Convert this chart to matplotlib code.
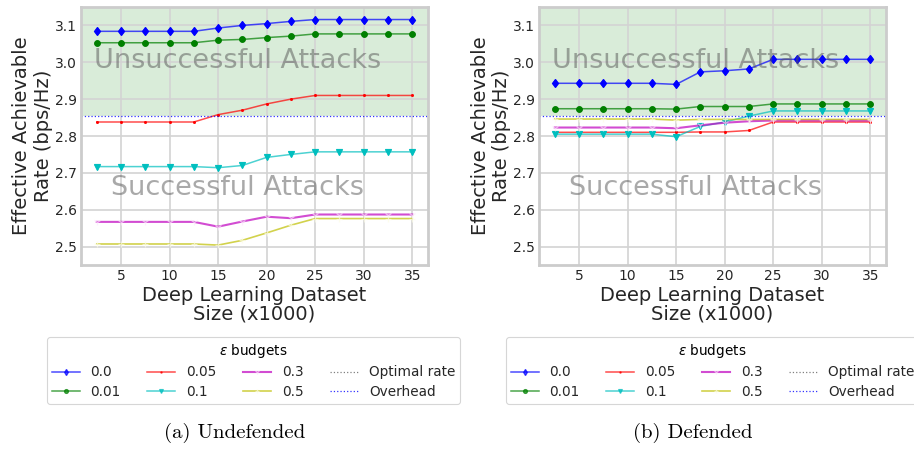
import matplotlib
matplotlib.use("Agg")
import matplotlib.pyplot as plt
from matplotlib.lines import Line2D

dataset_size = [2.5, 5, 7.5, 10, 12.5, 15, 17.5, 20, 22.5, 25, 27.5, 30, 32.5, 35]
budget_labels = ["0.0", "0.01", "0.05", "0.1", "0.3", "0.5"]

undef_00 = [3.084, 3.084, 3.084, 3.084, 3.084, 3.093, 3.100, 3.105, 3.111, 3.116, 3.116, 3.116, 3.116, 3.116]
undef_001 = [3.053, 3.053, 3.053, 3.053, 3.053, 3.060, 3.062, 3.067, 3.071, 3.077, 3.077, 3.077, 3.077, 3.077]
undef_005 = [2.838, 2.838, 2.838, 2.838, 2.838, 2.858, 2.870, 2.887, 2.900, 2.910, 2.910, 2.910, 2.910, 2.910]
undef_01 = [2.717, 2.717, 2.717, 2.717, 2.717, 2.714, 2.720, 2.742, 2.750, 2.757, 2.757, 2.757, 2.757, 2.757]
undef_03 = [2.567, 2.567, 2.567, 2.567, 2.567, 2.554, 2.568, 2.581, 2.577, 2.587, 2.587, 2.587, 2.587, 2.587]
undef_05 = [2.507, 2.507, 2.507, 2.507, 2.507, 2.504, 2.517, 2.537, 2.558, 2.576, 2.576, 2.576, 2.576, 2.576]

def_00 = [2.943, 2.943, 2.943, 2.943, 2.943, 2.940, 2.974, 2.977, 2.982, 3.008, 3.008, 3.008, 3.008, 3.008]
def_001 = [2.874, 2.874, 2.874, 2.874, 2.874, 2.873, 2.880, 2.880, 2.880, 2.887, 2.887, 2.887, 2.887, 2.887]
def_005 = [2.810, 2.810, 2.810, 2.810, 2.810, 2.810, 2.811, 2.811, 2.815, 2.838, 2.838, 2.838, 2.838, 2.838]
def_01 = [2.805, 2.805, 2.805, 2.805, 2.805, 2.798, 2.826, 2.838, 2.854, 2.868, 2.868, 2.868, 2.868, 2.868]
def_03 = [2.823, 2.823, 2.823, 2.823, 2.823, 2.821, 2.829, 2.836, 2.840, 2.842, 2.842, 2.842, 2.842, 2.842]
def_05 = [2.846, 2.846, 2.846, 2.846, 2.846, 2.843, 2.845, 2.845, 2.845, 2.845, 2.845, 2.845, 2.845, 2.845]

overhead = 2.853
y_ticks = [2.5, 2.6, 2.7, 2.8, 2.9, 3.0, 3.1]
x_ticks = [5, 10, 15, 20, 25, 30, 35]
captions = ["(a) Undefended", "(b) Defended"]

colors = ["blue", "green", "red", "c", "m", "y"]
markers = ["d", "o", ".", "v", "1", "+"]
mecs = ["blue", "green", "red", "c", "#fde8fd", "#fdfde6"]
msizes = [4.5, 4, 2.5, 4, 5, 5]
lws = [1.1, 1.1, 1.1, 1.1, 1.5, 1.2]

plt.rcParams["font.family"] = ["DejaVu Sans"]

fig = plt.figure(figsize=(9.14, 4.49), dpi=100)
W, H = 914, 449
panels = [
    (81, [undef_00, undef_001, undef_005, undef_01, undef_03, undef_05], 47, 0),
    (539, [def_00, def_001, def_005, def_01, def_03, def_05], 506, 1),
]

for left_px, series, leg_left, idx in panels:
    ax = fig.add_axes([left_px / W, 1 - 265 / H, 347 / W, 258 / H])
    ax.set_facecolor("white")
    for s in ax.spines.values():
        s.set_color("#cccccc")
        s.set_linewidth(2.0)
    ax.grid(True, color="#d3d3d3", linewidth=1.2)
    ax.set_axisbelow(True)
    ax.tick_params(axis="both", length=0, labelsize=10, colors="#262626", pad=3)
    ax.set_ylim(2.45, 3.15)
    ax.set_xlim(0.875, 36.625)
    ax.axhspan(overhead, 3.15, color="green", alpha=0.15, lw=0, zorder=0.5)
    lines = []
    for i, ys in enumerate(series):
        ln, = ax.plot(dataset_size, ys, label=budget_labels[i], color=colors[i],
                      marker=markers[i], markersize=msizes[i], markeredgewidth=0.9,
                      markeredgecolor=mecs[i], lw=lws[i], alpha=0.7)
        if i < 4:
            ax.plot(dataset_size, ys, color=colors[i], marker=markers[i], markersize=msizes[i],
                    markeredgewidth=0.6, lw=0, markeredgecolor=mecs[i])
        lines.append(ln)
    ov = ax.axhline(overhead, color="blue", linestyle=":", lw=0.9, alpha=0.8, label="Overhead")
    opt = Line2D([], [], color="gray", linestyle=":", lw=0.9, label="Optimal rate")
    ax.set_yticks(y_ticks)
    ax.set_xticks(x_ticks)
    ax.text(2.2, 3.003, "Unsuccessful Attacks", fontsize=19.5, color="#555555", alpha=0.5,
            ha="left", va="center")
    ax.text(4.0, 2.658, "Successful Attacks", fontsize=19.5, color="#555555", alpha=0.5,
            ha="left", va="center")
    ax.set_xlabel("Deep Learning Dataset\nSize (x1000)", fontsize=14, color="#262626",
                  linespacing=1.0, labelpad=2)
    ax.set_ylabel("Effective Achievable\nRate (bps/Hz)", fontsize=14, color="#262626",
                  linespacing=1.15, labelpad=1.5)

    handles = [lines[0], lines[1], lines[2], lines[3], lines[4], lines[5], opt, ov]
    leg = fig.legend(handles, [h.get_label() for h in handles], ncol=4,
                     loc="upper left", bbox_to_anchor=(leg_left / W, 1 - 337 / H),
                     title=r"$\epsilon$ budgets", fontsize=9.8, title_fontsize=9.8,
                     frameon=True, fancybox=True, edgecolor="#cccccc", markerscale=0.7,
                     columnspacing=1.95, handlelength=2.05, handletextpad=0.8,
                     borderpad=0.35, labelspacing=0.42, borderaxespad=0)
    leg.get_frame().set_linewidth(0.8)
    for t in leg.get_texts():
        t.set_color("#262626")
    cx = (left_px + 347 / 2 - 20) / W
    fig.text(cx, 1 - 433 / H, captions[idx], fontsize=15, family="cmr10",
             ha="center", va="center")

fig.savefig("out.png", dpi=100)
